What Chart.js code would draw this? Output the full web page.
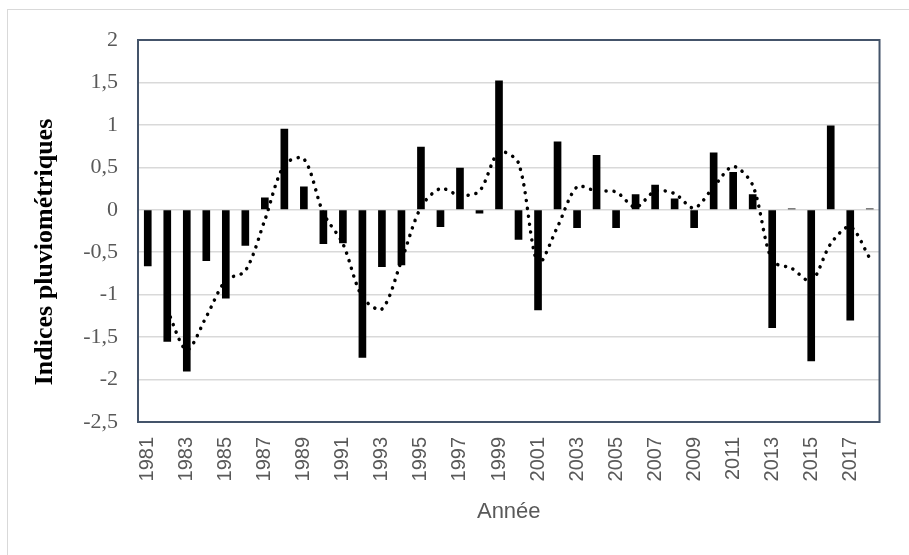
<!DOCTYPE html>
<html>
<head>
<meta charset="utf-8">
<script src="https://cdn.jsdelivr.net/npm/chart.js@4.4.0/dist/chart.umd.min.js"></script>
<style>
  html, body { margin: 0; padding: 0; background: #fff; }
  #wrap { position: relative; width: 909px; height: 555px; overflow: hidden; }
  #frame { position: absolute; left: 7px; top: 9px; width: 1000px; height: 600px;
           border-top: 1.5px solid #d9d9d9; border-left: 1.5px solid #d9d9d9; }
  canvas { position: absolute; left: 0; top: 0; }
</style>
</head>
<body>
<div id="wrap">
  <div id="frame"></div>
  <canvas id="chart" width="909" height="555"></canvas>
</div>
<script>
var years = ['1981', '1982', '1983', '1984', '1985', '1986', '1987', '1988', '1989', '1990',
  '1991', '1992', '1993', '1994', '1995', '1996', '1997', '1998', '1999', '2000',
  '2001', '2002', '2003', '2004', '2005', '2006', '2007', '2008', '2009', '2010',
  '2011', '2012', '2013', '2014', '2015', '2016', '2017', '2018'];

// indices pluviométriques (barres)
var indices = [-0.66, -1.55, -1.90, -0.60, -1.04, -0.42, 0.14, 0.95, 0.27, -0.40,
  -0.39, -1.74, -0.67, -0.65, 0.74, -0.20, 0.49, -0.04, 1.52, -0.35,
  -1.18, 0.80, -0.21, 0.64, -0.21, 0.18, 0.29, 0.13, -0.21, 0.67,
  0.44, 0.18, -1.39, 0.01, -1.78, 0.99, -1.30, 0.01];

// courbe en pointillés (moyenne mobile)
var moyenne = [null, -1.18, -1.65, -1.26, -0.83, -0.72, -0.12, 0.53, 0.60, -0.04,
  -0.40, -1.03, -1.17, -0.60, 0.03, 0.25, 0.17, 0.22, 0.68, 0.55,
  -0.63, -0.20, 0.27, 0.22, 0.21, 0.03, 0.22, 0.19, 0.02, 0.27,
  0.51, 0.29, -0.60, -0.69, -0.84, -0.40, -0.20, -0.57];

var yMin = -2.5;
var yMax = 2;
var yStep = 0.5;

var extras = {
  id: 'extras',
  afterDraw: function (chart) {
    var c = chart.ctx;
    var a = chart.chartArea;
    c.save();
    c.strokeStyle = '#44546a';
    c.lineWidth = 2;
    c.strokeRect(a.left, a.top, a.right - a.left, a.bottom - a.top);
    c.translate(45, 252);
    c.rotate(-Math.PI / 2);
    c.fillStyle = '#000';
    c.font = 'bold 26px "Liberation Serif", serif';
    c.textAlign = 'center';
    c.textBaseline = 'middle';
    c.fillText('Indices pluviométriques', 0, 0);
    c.restore();
  }
};

var ctx = document.getElementById('chart').getContext('2d');

var chart = new Chart(ctx, {
  type: 'bar',
  data: {
    labels: years,
    datasets: [{
      type: 'line',
      data: moyenne,
      borderColor: '#000',
      borderWidth: 3.5,
      borderDash: [0.1, 7.8],
      borderCapStyle: 'round',
      pointRadius: 0,
      tension: 0.3,
      fill: false,
      order: 0
    }, {
      data: indices,
      backgroundColor: '#000',
      barThickness: 7,
      order: 1
    }]
  },
  options: {
    responsive: false,
    animation: false,
    devicePixelRatio: 1,
    layout: { padding: { top: 40, right: 18, left: 0, bottom: 0 } },
    plugins: { legend: { display: false }, tooltip: { enabled: false } },
    scales: {
      x: {
        grid: { display: false, drawTicks: false },
        border: { display: false },
        ticks: {
          autoSkip: false,
          minRotation: 90,
          maxRotation: 90,
          padding: 15,
          color: '#595959',
          font: { family: '"Liberation Sans", sans-serif', size: 20 },
          callback: function (v, i) { return i % 2 === 0 ? years[i] : ''; }
        },
        title: {
          display: true,
          text: 'Année',
          color: '#595959',
          font: { family: '"Liberation Sans", sans-serif', size: 22 },
          padding: { top: 0, bottom: 30 }
        },
        afterFit: function (s) { s.height = 133; }
      },
      y: {
        min: yMin,
        max: yMax,
        grid: { color: '#d9d9d9', lineWidth: 1.5, drawTicks: false },
        border: { display: false },
        ticks: {
          stepSize: yStep,
          padding: 20,
          color: '#595959',
          font: { family: '"Liberation Serif", serif', size: 22 },
          callback: function (v) { return (Math.round(v * 10) / 10).toString().replace('.', ','); }
        },
        afterFit: function (s) { s.width = 138; }
      }
    }
  },
  plugins: [extras]
});
</script>
</body>
</html>
